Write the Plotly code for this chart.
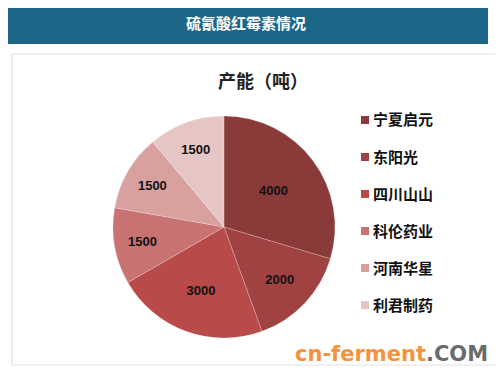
import plotly.graph_objects as go

labels = ["宁夏启元", "东阳光", "四川山山", "科伦药业", "河南华星", "利君制药"]
values = [4000, 2000, 3000, 1500, 1500, 1500]
colors = ["#8B3A3A", "#A14242", "#B84A4A", "#C87272", "#D9A0A0", "#E6C5C5"]
banner_title = "硫氰酸红霉素情况"
chart_title = "产能（吨）"

OFF = 8  # page body margin
W, H = 503 - 2 * OFF, 378 - 2 * OFF
CJK = "Noto Sans CJK SC"

def px(x):
    return (x - OFF) / W

def py(y):
    return 1 - (y - OFF) / H

fig = go.Figure()
fig.add_trace(go.Pie(
    labels=labels, values=values, sort=False, direction="clockwise", rotation=0,
    marker=dict(colors=colors, line=dict(color="rgba(255,255,255,0.35)", width=0.6)),
    texttemplate="%{value}", textposition="inside", insidetextorientation="horizontal",
    textfont=dict(family="Liberation Sans, Arial", size=13, color="#111111", weight="bold"),
    domain=dict(x=[px(224 - 111), px(224 + 111)], y=[py(227 + 111), py(227 - 111)]),
    showlegend=False, hoverinfo="label+value",
))

shapes = [
    dict(type="rect", xref="paper", yref="paper", x0=px(3), x1=px(488), y0=py(44), y1=py(2),
         fillcolor="#1C6688", line=dict(width=0), layer="below"),
    dict(type="rect", xref="paper", yref="paper", x0=px(12), x1=px(520), y0=py(365), y1=py(54),
         fillcolor="rgba(0,0,0,0)", line=dict(color="#E2E2E2", width=1.2), layer="below"),
]
annotations = [
    dict(text=f"<b>{banner_title}</b>", x=px(246), y=py(23), xref="paper", yref="paper",
         showarrow=False, font=dict(family=CJK, size=15, color="white"), xanchor="center", yanchor="middle"),
    dict(text=f"<b>{chart_title}</b>", x=px(263), y=py(80), xref="paper", yref="paper",
         showarrow=False, font=dict(family=CJK, size=18, color="#222222"), xanchor="center", yanchor="middle"),
    dict(text="<b><span style='color:#F7923A'>cn-ferment</span><span style='color:#6B6B6B'>.COM</span></b>",
         x=px(490), y=py(354), xref="paper", yref="paper", showarrow=False,
         font=dict(family="DejaVu Sans", size=21), xanchor="right", yanchor="middle"),
]

leg_y0, leg_dy = 119, 37
for i, (lab, col) in enumerate(zip(labels, colors)):
    yc = leg_y0 + i * leg_dy
    shapes.append(dict(type="rect", xref="paper", yref="paper", x0=px(361), x1=px(369),
                       y0=py(yc + 5), y1=py(yc - 3), fillcolor=col, line=dict(width=0)))
    annotations.append(dict(text=f"<b>{lab}</b>", x=px(371), y=py(yc), xref="paper", yref="paper",
                            showarrow=False, font=dict(family=CJK, size=15, color="#111111"),
                            xanchor="left", yanchor="middle"))

fig.update_layout(
    width=W, height=H, margin=dict(l=0, r=0, t=0, b=0),
    paper_bgcolor="white", plot_bgcolor="white",
    shapes=shapes, annotations=annotations,
)
fig.write_html("out.html")
